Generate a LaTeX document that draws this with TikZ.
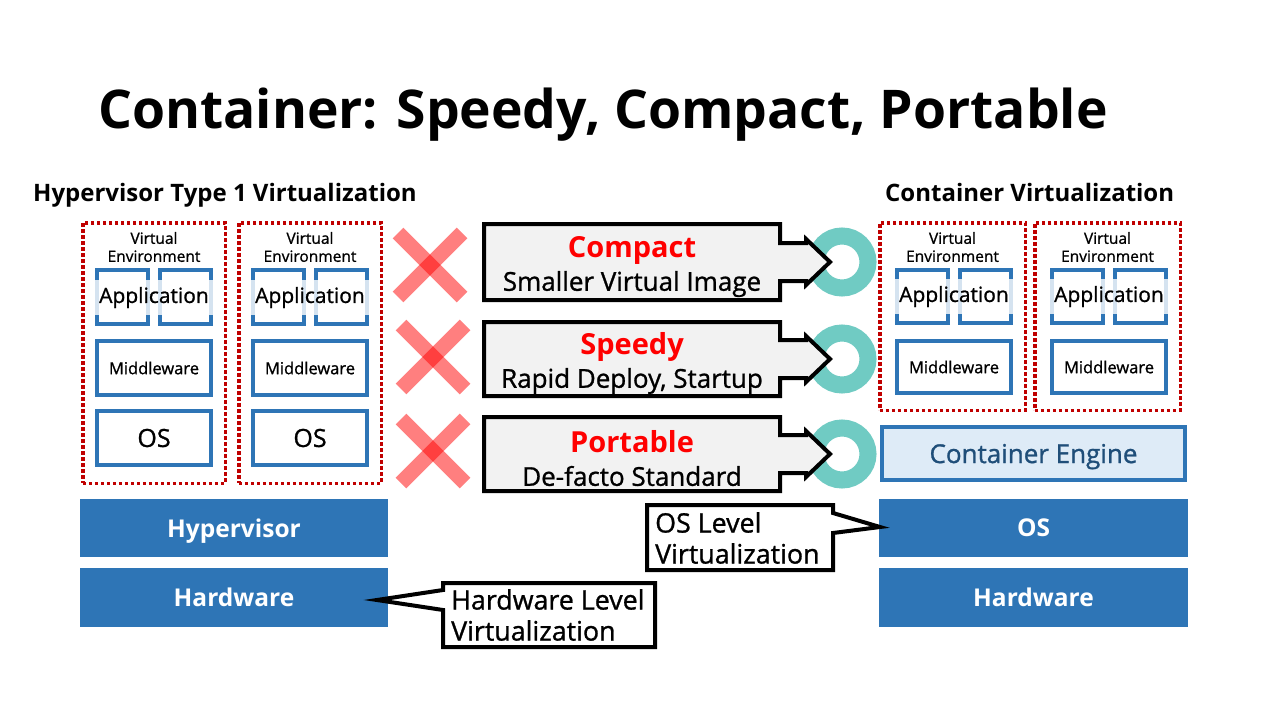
\documentclass[tikz,border=0pt]{standalone}
\usepackage{fontspec}
\setmainfont{Open Sans}
\newfontfamily\medfont{Open Sans}[FakeBold=1]
\definecolor{blu}{HTML}{2E75B6}
\definecolor{vered}{HTML}{C00000}
\definecolor{lightblu}{HTML}{DEEBF7}
\definecolor{engtxt}{HTML}{1F4E79}
\definecolor{ringcol}{HTML}{70CBC3}
\definecolor{boxgray}{HTML}{F2F2F2}
\newcommand\fsz[2]{\fontsize{#1}{#2}\selectfont}
\begin{document}
\begin{tikzpicture}[x=1pt,y=-1pt,
  vebox/.style={draw=vered, line width=3.5pt, dash pattern=on 3.5pt off 2.5pt, inner sep=0pt},
  blbox/.style={draw=blu, line width=4pt, fill=white, inner sep=0pt},
  applabel/.style={fill=white, fill opacity=0.8, text opacity=1, inner sep=0pt,
    minimum width=118pt, minimum height=35pt, font=\medfont\fsz{21}{24}},
  vetext/.style={align=center, inner sep=0pt, font=\medfont\fsz{15.5}{18}},
  midtext/.style={font=\medfont\fsz{16.5}{19}},
  ostext/.style={font=\medfont\fsz{25}{28}},
  bar/.style={fill=blu, text=white, inner sep=0pt, text depth=0pt, font=\bfseries\fsz{24.5}{28}},
  heading/.style={anchor=base west, inner sep=0pt, font=\bfseries\fsz{24}{30}},
  cross/.style={draw=red, draw opacity=0.5, line width=15pt},
  ring/.style={circle, draw=ringcol, line width=17pt, minimum size=52pt, inner sep=0pt},
  featbox/.style={fill=boxgray, draw=black, line width=4pt, line join=miter},
  feattitle/.style={text=red, font=\bfseries\fsz{29}{32}},
  featsub/.style={font=\medfont\fsz{26}{28}},
  callout/.style={fill=white, draw=black, line width=4pt, line join=miter},
  calltext/.style={anchor=west, align=left, inner sep=0pt, font=\medfont\fsz{26.8}{31}}
]
\useasboundingbox (0,0) rectangle (1280,720);
\fill[white] (0,0) rectangle (1280,720);

% title and column headings
\node[anchor=base west, inner sep=0pt, font=\bfseries\fsz{53.4}{60}] (title) at (98,128) {Container: Speedy, Compact, Portable};
\node[heading] (hvhead) at (33,201) {Hypervisor Type 1 Virtualization};
\node[heading] (cthead) at (885,201) {Container Virtualization};

% hypervisor side: two full virtual machines
\foreach \i/\dx in {1/0,2/156} {
  \node[vebox, minimum width=142.5pt, minimum height=260.5pt] (ve\i) at (154+\dx,353) {};
  \node[vetext] (vet\i) at (154+\dx,247) {Virtual\\Environment};
  \node[blbox, minimum width=51pt, minimum height=54pt] (appa\i) at (122.5+\dx,297) {};
  \node[blbox, minimum width=51pt, minimum height=54pt] (appb\i) at (185.5+\dx,297) {};
  \node[applabel] (appl\i) at (154+\dx,297.5) {Application};
  \node[blbox, minimum width=114pt, minimum height=54pt, midtext] (mw\i) at (154+\dx,368) {Middleware};
  \node[blbox, minimum width=114pt, minimum height=54pt, ostext] (os\i) at (154+\dx,438) {OS};
}
\node[bar, minimum width=308pt, minimum height=58pt] (hyper) at (234,528) {Hypervisor};
\node[bar, minimum width=308pt, minimum height=59pt] (hwL) at (234,597.5) {Hardware};

% container side
\foreach \i/\dx in {3/0,4/155} {
  \node[vebox, minimum width=145.5pt, minimum height=187.5pt] (ve\i) at (952.5+\dx,316.5) {};
  \node[vetext] (vet\i) at (952.5+\dx,247) {Virtual\\Environment};
  \node[blbox, minimum width=51pt, minimum height=53pt] (appa\i) at (922.5+\dx,296.5) {};
  \node[blbox, minimum width=51pt, minimum height=53pt] (appb\i) at (985+\dx,296.5) {};
  \node[applabel] (appl\i) at (954+\dx,296.5) {Application};
  \node[blbox, minimum width=114pt, minimum height=52pt, midtext] (mw\i) at (954+\dx,367) {Middleware};
}
\node[draw=blu, line width=4pt, fill=lightblu, text=engtxt, inner sep=0pt, text depth=0pt,
      minimum width=303pt, minimum height=53pt, font=\medfont\fsz{26}{28}] (engine) at (1033.5,453.5) {Container Engine};
\node[bar, minimum width=309pt, minimum height=58pt] (osR) at (1033.5,528) {OS};
\node[bar, minimum width=309pt, minimum height=59pt] (hwR) at (1033.5,597.5) {Hardware};

% crosses for the hypervisor side
\foreach \cx/\cy in {430/265,433/357,433/451} {
  \draw[cross] (\cx-32,\cy-32) -- (\cx+32,\cy+32);
  \draw[cross] (\cx-32,\cy+32) -- (\cx+32,\cy-32);
}

% rings for the container side
\foreach \k/\cy in {1/262,2/359,3/454} {
  \node[ring] (ring\k) at (842,\cy) {};
}

% feature boxes with arrows
\foreach \k/\t/\b/\m/\ttl/\sub in {1/224/300/262/Compact/Smaller Virtual Image,
                                   2/322/396/359/Speedy/{Rapid Deploy, Startup},
                                   3/417/491/454/Portable/De-facto Standard} {
  \draw[featbox] (484,\t) -- (780,\t) -- (780,\m-19) -- (806,\m-19) -- (806,\m-23)
      -- (830,\m) -- (806,\m+23) -- (806,\m+19) -- (780,\m+19) -- (780,\b)
      -- (484,\b) -- cycle;
  \node[feattitle] (ft\k) at (632,\m-12) {\ttl};
  \node[featsub] (fs\k) at (632,\m+22) {\sub};
}

% callouts
\draw[callout] (647,505) -- (833,505) -- (833,513) -- (880,527) -- (833,533)
  -- (833,570) -- (647,570) -- cycle;
\node[calltext] (oscall) at (655,538) {OS Level\\Virtualization};
\draw[callout] (443,583) -- (655,583) -- (655,647) -- (443,647) -- (443,610)
  -- (377,600) -- (443,590) -- cycle;
\node[calltext] (hwcall) at (451,615) {Hardware Level\\Virtualization};
\end{tikzpicture}
\end{document}
